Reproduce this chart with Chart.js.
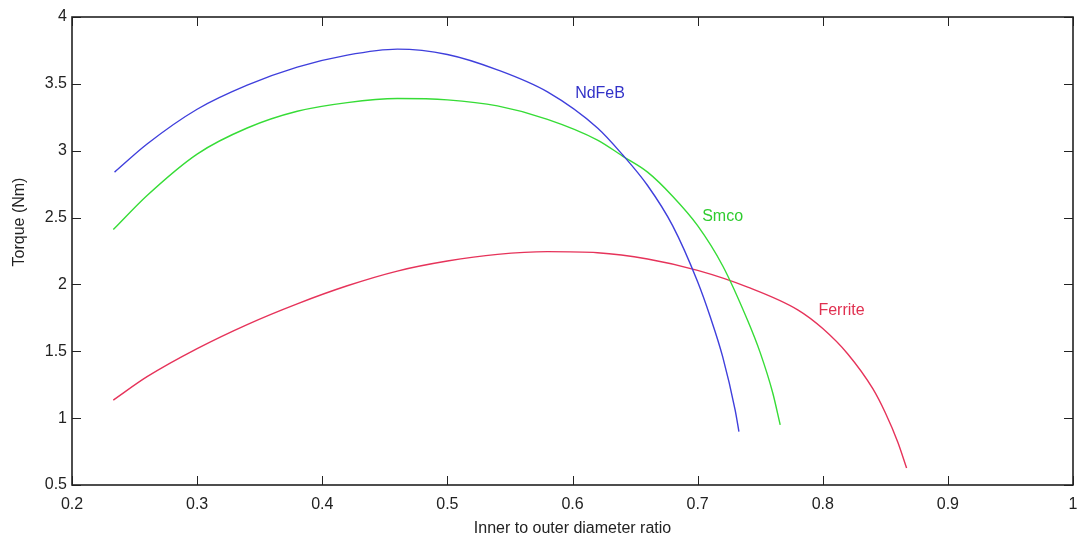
<!DOCTYPE html>
<html>
<head>
<meta charset="utf-8">
<script src="https://cdn.jsdelivr.net/npm/chart.js@4/dist/chart.umd.min.js"></script>
<style>
  html, body { margin: 0; padding: 0; background: #fff; }
  #wrap { width: 1080px; height: 538px; }
</style>
</head>
<body>
<div id="wrap"><canvas id="torqueChart" width="1080" height="538"></canvas></div>
<script>
// Values
const ndfebX = [0.234, 0.26, 0.30, 0.34, 0.38, 0.42, 0.46, 0.50, 0.54, 0.58, 0.62, 0.64, 0.66, 0.68, 0.70, 0.71, 0.72, 0.73, 0.733];
const ndfebY = [2.84, 3.05, 3.31, 3.49, 3.625, 3.715, 3.76, 3.72, 3.605, 3.44, 3.17, 2.97, 2.74, 2.44, 2.02, 1.76, 1.46, 1.06, 0.90];

const smcoX = [0.233, 0.26, 0.30, 0.34, 0.38, 0.42, 0.46, 0.50, 0.54, 0.58, 0.62, 0.64, 0.66, 0.68, 0.70, 0.72, 0.74, 0.75, 0.76, 0.766];
const smcoY = [2.41, 2.665, 2.975, 3.17, 3.295, 3.36, 3.39, 3.38, 3.335, 3.235, 3.08, 2.96, 2.84, 2.66, 2.44, 2.14, 1.73, 1.49, 1.19, 0.95];

const ferriteX = [0.233, 0.26, 0.30, 0.34, 0.38, 0.42, 0.46, 0.50, 0.54, 0.58, 0.62, 0.66, 0.70, 0.74, 0.78, 0.80, 0.82, 0.84, 0.85, 0.86, 0.867];
const ferriteY = [1.135, 1.31, 1.52, 1.70, 1.855, 1.99, 2.10, 2.175, 2.225, 2.245, 2.237, 2.19, 2.105, 1.98, 1.81, 1.67, 1.48, 1.22, 1.04, 0.82, 0.627];

const xTicks = [0.2, 0.3, 0.4, 0.5, 0.6, 0.7, 0.8, 0.9, 1];
const yTicks = [0.5, 1, 1.5, 2, 2.5, 3, 3.5, 4];

// series names written next to the curves (data coordinates)
const seriesNames = ['NdFeB', 'Smco', 'Ferrite'];
const nameX = [0.622, 0.720, 0.815];
const nameY = [3.424, 2.504, 1.801];

const lineColors = ['#3f3fdc', '#36dc36', '#e6335a'];
const textColors = ['#3232c8', '#2fcc2f', '#e03050'];

function toPoints(xs, ys) {
    return xs.map((x, i) => ({ x: x, y: ys[i] }));
}

const FONT = '"Liberation Sans", Arial, sans-serif';

// Box around the plot with inward ticks on all four sides
const frameTicks = {
    id: 'frameTicks',
    afterDraw(chart) {
        const { ctx, chartArea: a, scales } = chart;
        const len = 9;
        ctx.save();
        ctx.strokeStyle = '#222';
        ctx.lineWidth = 1;
        ctx.beginPath();
        xTicks.forEach(v => {
            const px = Math.round(scales.x.getPixelForValue(v)) + 0.5;
            ctx.moveTo(px, a.bottom); ctx.lineTo(px, a.bottom - len);
            ctx.moveTo(px, a.top); ctx.lineTo(px, a.top + len);
        });
        yTicks.forEach(v => {
            const py = Math.round(scales.y.getPixelForValue(v)) + 0.5;
            ctx.moveTo(a.left, py); ctx.lineTo(a.left + len, py);
            ctx.moveTo(a.right, py); ctx.lineTo(a.right - len, py);
        });
        ctx.stroke();
        ctx.lineWidth = 1.6;
        ctx.strokeRect(a.left, a.top, a.right - a.left, a.bottom - a.top);

        // y axis title
        ctx.fillStyle = '#222';
        ctx.font = '16px ' + FONT;
        ctx.translate(20, 222);
        ctx.rotate(-Math.PI / 2);
        ctx.textAlign = 'center';
        ctx.textBaseline = 'middle';
        ctx.fillText('Torque (Nm)', 0, 0);
        ctx.restore();
    }
};

// Curve names placed through the scales
const curveNames = {
    id: 'curveNames',
    afterDatasetsDraw(chart) {
        const { ctx, scales } = chart;
        ctx.save();
        ctx.font = '16px ' + FONT;
        ctx.textAlign = 'center';
        ctx.textBaseline = 'middle';
        seriesNames.forEach((name, i) => {
            ctx.fillStyle = textColors[i];
            ctx.fillText(name, scales.x.getPixelForValue(nameX[i]), scales.y.getPixelForValue(nameY[i]));
        });
        ctx.restore();
    }
};

const ctx = document.getElementById('torqueChart').getContext('2d');
new Chart(ctx, {
    type: 'line',
    data: {
        datasets: [
            { label: seriesNames[0], data: toPoints(ndfebX, ndfebY), borderColor: lineColors[0] },
            { label: seriesNames[1], data: toPoints(smcoX, smcoY), borderColor: lineColors[1] },
            { label: seriesNames[2], data: toPoints(ferriteX, ferriteY), borderColor: lineColors[2] }
        ]
    },
    options: {
        responsive: false,
        animation: false,
        devicePixelRatio: 1,
        layout: { padding: { left: 0, right: 0, top: 17, bottom: 0 } },
        elements: {
            point: { radius: 0 },
            line: { borderWidth: 1.4, cubicInterpolationMode: 'monotone', fill: false }
        },
        plugins: {
            legend: { display: false },
            tooltip: { enabled: false }
        },
        scales: {
            x: {
                type: 'linear',
                min: 0.2,
                max: 1,
                afterBuildTicks: s => { s.ticks = xTicks.map(v => ({ value: v })); },
                afterFit: s => { s.height = 53; s.paddingRight = 7; },
                grid: { display: false, drawTicks: false },
                border: { display: false },
                ticks: {
                    color: '#222',
                    font: { family: FONT, size: 16 },
                    padding: 10,
                    maxRotation: 0,
                    autoSkip: false,
                    callback: v => String(v)
                },
                title: {
                    display: true,
                    text: 'Inner to outer diameter ratio',
                    color: '#222',
                    font: { family: FONT, size: 16 },
                    padding: { top: 0, bottom: 0 }
                }
            },
            y: {
                type: 'linear',
                min: 0.5,
                max: 4,
                afterBuildTicks: s => { s.ticks = yTicks.map(v => ({ value: v })); },
                afterFit: s => { s.width = 72; },
                grid: { display: false, drawTicks: false },
                border: { display: false },
                ticks: {
                    color: '#222',
                    font: { family: FONT, size: 16 },
                    padding: 5,
                    autoSkip: false,
                    callback: v => String(v)
                }
            }
        }
    },
    plugins: [frameTicks, curveNames]
});
</script>
</body>
</html>
